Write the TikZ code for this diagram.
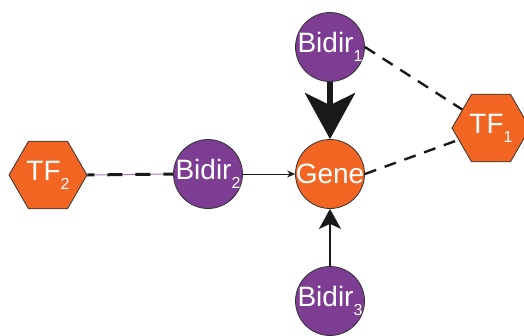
\documentclass[tikz,border=0pt]{standalone}
\usepackage{fontspec}
\setmainfont{Liberation Sans}
\usetikzlibrary{shapes.geometric, arrows.meta, positioning}
\definecolor{bidirpurple}{RGB}{125,61,146}
\definecolor{tforange}{RGB}{242,101,34}
\newcommand{\sbs}[1]{\raisebox{-9pt}{\fontsize{16}{16}\selectfont #1}}
\newcommand{\lbl}[1]{\makebox[0pt]{#1}}

\begin{document}
\begin{tikzpicture}[x=1pt, y=-1pt,
    bd/.style={circle, draw=black!80, line width=0.8pt, fill=bidirpurple,
      minimum size=69pt, inner sep=0pt, text=white, font=\fontsize{28}{28}\selectfont},
    gn/.style={circle, draw=black!80, line width=0.8pt, fill=tforange,
      minimum size=69pt, inner sep=0pt, text=white, font=\fontsize{28}{28}\selectfont},
    tf/.style={regular polygon, regular polygon sides=6, draw=black!80, line width=0.8pt,
      fill=tforange, minimum size=78pt, inner sep=0pt, text=white,
      font=\fontsize{28}{28}\selectfont},
    dsh/.style={line width=2.4pt, dash pattern=on 12pt off 9pt, black!90},
    arr/.style={black!90}
  ]
    \useasboundingbox (0,0) rectangle (524,335);
    \node[gn] (g)  at (330,174) {\lbl{Gene}};
    \node[bd] (b1) at (330,47)  {\lbl{Bidir\sbs{1}}};
    \node[bd] (b2) at (208,174) {\lbl{Bidir\sbs{2}}};
    \node[bd] (b3) at (330,301) {\lbl{Bidir\sbs{3}}};
    \node[tf] (t1) at (491,128) {\lbl{TF\sbs{1}}};
    \node[tf] (t2) at (48,175)  {\lbl{TF\sbs{2}}};
    \draw[arr, line width=6pt, -{Stealth[length=46pt, width=50pt, inset=12pt]}]
      (b1) -- (g);
    \draw[arr, line width=2pt, -{Stealth[length=20pt, width=22pt, inset=5pt]}]
      (b3) -- (g);
    \draw[arr, line width=0.9pt, -{Stealth[length=8pt, width=7pt]}]
      (b2) -- (g);
    \draw[dsh] (b1.east) -- (t1);
    \draw[dsh] (g.east) -- (t1);
    \draw[bidirpurple!70, line width=1pt] (t2.east) -- (b2.west);
    \draw[black!90, line width=3pt, dash pattern=on 15pt off 13pt, dash phase=8pt]
      (t2.east) -- (b2.west);
  \end{tikzpicture}
\end{document}
